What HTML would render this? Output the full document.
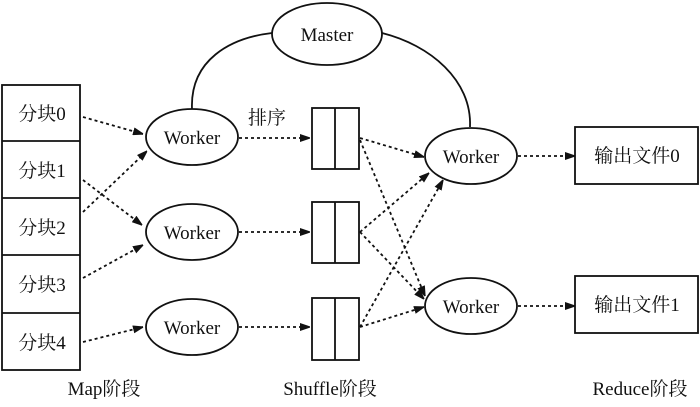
<!DOCTYPE html>
<html><head><meta charset="utf-8"><style>
body{margin:0;background:#fff;}
svg text{font-family:"Liberation Serif","Noto Serif CJK SC",serif;fill:#111;}
</style></head><body>
<svg width="700" height="402" viewBox="0 0 700 402" xmlns="http://www.w3.org/2000/svg">
<defs><marker id="a" markerWidth="10" markerHeight="8" refX="10" refY="4" orient="auto" markerUnits="userSpaceOnUse"><path d="M0,0L12,4L0,8z" fill="#111"/></marker></defs>
<g fill="none" stroke="#111" stroke-width="1.8">
<rect x="2" y="85" width="78" height="285"/>
<line x1="2" y1="141" x2="80" y2="141"/><line x1="2" y1="198" x2="80" y2="198"/>
<line x1="2" y1="255" x2="80" y2="255"/><line x1="2" y1="313" x2="80" y2="313"/>
<ellipse cx="327" cy="34" rx="55" ry="31"/>
<ellipse cx="192" cy="137" rx="46" ry="28"/>
<ellipse cx="192" cy="232" rx="46" ry="28"/>
<ellipse cx="192" cy="327" rx="46" ry="28"/>
<ellipse cx="471" cy="156" rx="46" ry="28"/>
<ellipse cx="471" cy="306" rx="46" ry="28"/>
<rect x="312" y="108" width="47" height="61"/><line x1="335" y1="108" x2="335" y2="169"/>
<rect x="312" y="202" width="47" height="61"/><line x1="335" y1="202" x2="335" y2="263"/>
<rect x="312" y="298" width="47" height="62"/><line x1="335" y1="298" x2="335" y2="360"/>
<rect x="575" y="127" width="123" height="57"/>
<rect x="575" y="276" width="123" height="57"/>
<path d="M192,109 C190,60 230,38 272,33"/>
<path d="M382,33 C430,45 472,80 470,127"/>
</g>
<g fill="none" stroke="#111" stroke-width="1.8" stroke-dasharray="3,3" marker-end="url(#a)">
<line x1="83" y1="117" x2="143" y2="134"/>
<line x1="83" y1="180" x2="142" y2="225"/>
<line x1="83" y1="212" x2="147" y2="151"/>
<line x1="83" y1="278" x2="143" y2="245"/>
<line x1="83" y1="342" x2="143" y2="327"/>
<line x1="239" y1="138" x2="310" y2="138"/>
<line x1="239" y1="232" x2="310" y2="232"/>
<line x1="239" y1="327" x2="310" y2="327"/>
<line x1="360" y1="138" x2="424" y2="157"/>
<line x1="360" y1="140" x2="425" y2="296"/>
<line x1="360" y1="232" x2="429" y2="173"/>
<line x1="360" y1="232" x2="424" y2="299"/>
<line x1="360" y1="327" x2="443" y2="180"/>
<line x1="360" y1="327" x2="424" y2="307"/>
<line x1="518" y1="156" x2="575" y2="156"/>
<line x1="518" y1="306" x2="575" y2="306"/>
</g>
<g font-size="19" text-anchor="middle">
<text x="327" y="41">Master</text>
<text x="192" y="144">Worker</text>
<text x="192" y="239">Worker</text>
<text x="192" y="334">Worker</text>
<text x="471" y="163">Worker</text>
<text x="471" y="313">Worker</text>
<text x="42" y="120">分块0</text>
<text x="42" y="177">分块1</text>
<text x="42" y="234">分块2</text>
<text x="42" y="291">分块3</text>
<text x="42" y="349">分块4</text>
<text x="267" y="124">排序</text>
<text x="637" y="162">输出文件0</text>
<text x="637" y="311">输出文件1</text>
<text x="104" y="395">Map阶段</text>
<text x="330" y="395">Shuffle阶段</text>
<text x="640" y="395">Reduce阶段</text>
</g>
</svg>
</body></html>
